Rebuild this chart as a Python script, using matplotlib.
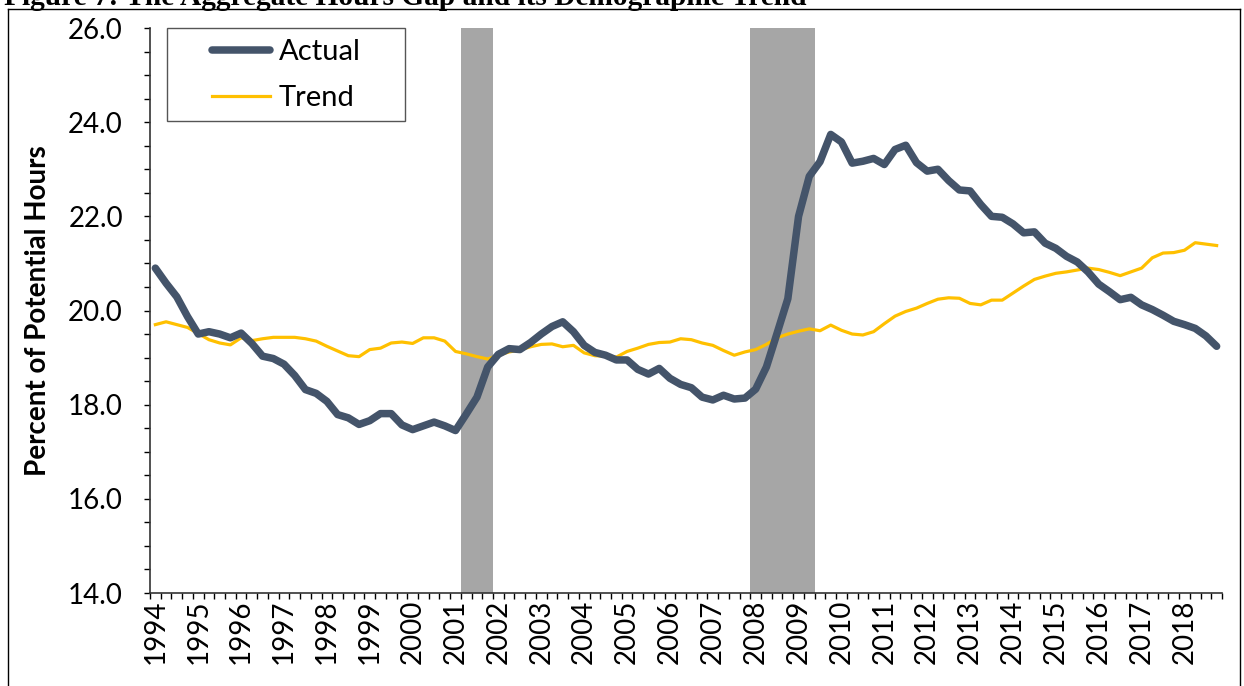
import numpy as np
import matplotlib
matplotlib.use("Agg")
import matplotlib.pyplot as plt
from matplotlib.lines import Line2D
from matplotlib.patches import Rectangle

# quarterly, 1994Q1 .. 2018Q4
years = list(range(1994, 2019))
actual = [20.90, 20.58, 20.29, 19.87, 19.50, 19.55, 19.50, 19.42, 19.52, 19.30,
          19.03, 18.98, 18.86, 18.62, 18.32, 18.24, 18.07, 17.79, 17.72, 17.58,
          17.66, 17.81, 17.81, 17.57, 17.47, 17.55, 17.63, 17.55, 17.45, 17.80,
          18.16, 18.80, 19.07, 19.19, 19.17, 19.32, 19.50, 19.66, 19.76, 19.55,
          19.26, 19.11, 19.05, 18.95, 18.95, 18.75, 18.65, 18.77, 18.56, 18.43,
          18.36, 18.16, 18.10, 18.20, 18.12, 18.14, 18.33, 18.80, 19.52, 20.25,
          22.00, 22.85, 23.16, 23.74, 23.58, 23.13, 23.17, 23.23, 23.10, 23.42,
          23.51, 23.14, 22.96, 23.00, 22.76, 22.56, 22.54, 22.25, 22.00, 21.98,
          21.84, 21.65, 21.67, 21.43, 21.32, 21.15, 21.03, 20.82, 20.56, 20.40,
          20.23, 20.28, 20.12, 20.02, 19.90, 19.77, 19.70, 19.62, 19.46, 19.24]
trend = [19.70, 19.76, 19.70, 19.64, 19.51, 19.38, 19.31, 19.27, 19.42, 19.36,
         19.40, 19.43, 19.43, 19.43, 19.40, 19.35, 19.24, 19.14, 19.04, 19.02,
         19.17, 19.20, 19.31, 19.33, 19.30, 19.42, 19.42, 19.35, 19.13, 19.08,
         19.02, 18.97, 19.05, 19.12, 19.16, 19.23, 19.28, 19.29, 19.23, 19.26,
         19.10, 19.04, 19.03, 19.01, 19.13, 19.20, 19.28, 19.32, 19.33, 19.40,
         19.38, 19.31, 19.26, 19.15, 19.05, 19.12, 19.17, 19.28, 19.42, 19.50,
         19.56, 19.61, 19.57, 19.69, 19.58, 19.50, 19.48, 19.55, 19.72, 19.88,
         19.98, 20.05, 20.15, 20.24, 20.27, 20.26, 20.15, 20.12, 20.22, 20.22,
         20.37, 20.52, 20.66, 20.73, 20.79, 20.82, 20.86, 20.90, 20.87, 20.81,
         20.74, 20.82, 20.90, 21.12, 21.22, 21.23, 21.28, 21.44, 21.41, 21.38]
# recessions as (first quarter, last quarter)
recessions = [("2001Q2", "2001Q4"), ("2008Q1", "2009Q2")]

quarters = [f"{y}Q{q}" for y in years for q in range(1, 5)]
x = np.arange(len(quarters))

plt.rcParams["font.family"] = ["Lato", "DejaVu Sans"]

W, H = 1244, 686
fig = plt.figure(figsize=(W / 100, H / 100), dpi=100)
ax = fig.add_axes([150 / W, 93 / H, 1072 / W, 565 / H])

for a, b in recessions:
    ax.axvspan(quarters.index(a) - 0.5, quarters.index(b) + 0.5,
               color="#a6a6a6", lw=0, zorder=0)

ax.plot(x, actual, color="#44546a", lw=5.4, solid_capstyle="round",
        solid_joinstyle="round", label="Actual", zorder=3)
ax.plot(x, trend, color="#ffc000", lw=2.3, solid_joinstyle="round",
        label="Trend", zorder=2)

ax.set_xlim(-0.5, len(quarters) - 0.5)
ax.set_ylim(14, 26)
ax.set_yticks(np.arange(14, 26.1, 2))
ax.set_yticklabels([f"{v:.1f}" for v in np.arange(14, 26.1, 2)])
ax.set_yticks(np.arange(14, 26.1, 0.5), minor=True)
ax.set_xticks(x[::4])
ax.set_xticklabels([str(y) for y in years], rotation=90)
ax.set_xticks(np.arange(-0.5, len(quarters)), minor=True)
ax.tick_params(axis="y", which="both", direction="out", length=4.5, width=1,
               labelsize=20, pad=15)
ax.tick_params(axis="x", which="major", length=0, labelsize=20, pad=5)
ax.tick_params(axis="x", which="minor", direction="out", length=4.5, width=1)
for s in ("top", "right"):
    ax.spines[s].set_visible(False)
for s in ("left", "bottom"):
    ax.spines[s].set_linewidth(1.2)
    ax.spines[s].set_color("#333333")

ax.set_ylabel("Percent of Potential Hours", fontsize=20, fontweight="bold",
              labelpad=12)

# legend box drawn separately so the padding can match the reference
ax.add_patch(Rectangle((167 / W, 1 - 121 / H), (405 - 167) / W, 93 / H,
                       transform=fig.transFigure, fill=True, fc="white",
                       ec="#555555", lw=1.0, zorder=4, clip_on=False))
leg = ax.legend(loc="upper left", bbox_to_anchor=(212 / W, 1 - 39 / H),
                bbox_transform=fig.transFigure, fontsize=21, frameon=False,
                handlelength=2.0, borderpad=0, labelspacing=0.69,
                handletextpad=0.3, borderaxespad=0)
leg.set_zorder(5)

fig.text(0.003, 681 / H, "Figure 7: The Aggregate Hours Gap and its Demographic Trend",
         family="Liberation Serif", fontweight="bold", fontsize=21.2,
         va="baseline", ha="left")

# outer frame
top = 1 - 8.5 / H
fig.add_artist(Line2D([8 / W, 8 / W], [0, top], color="black", lw=1))
fig.add_artist(Line2D([8 / W, 1240 / W], [top, top], color="black", lw=1))
fig.add_artist(Line2D([1240 / W, 1240 / W], [0, top], color="black", lw=1))

fig.savefig("out.png", dpi=100)
